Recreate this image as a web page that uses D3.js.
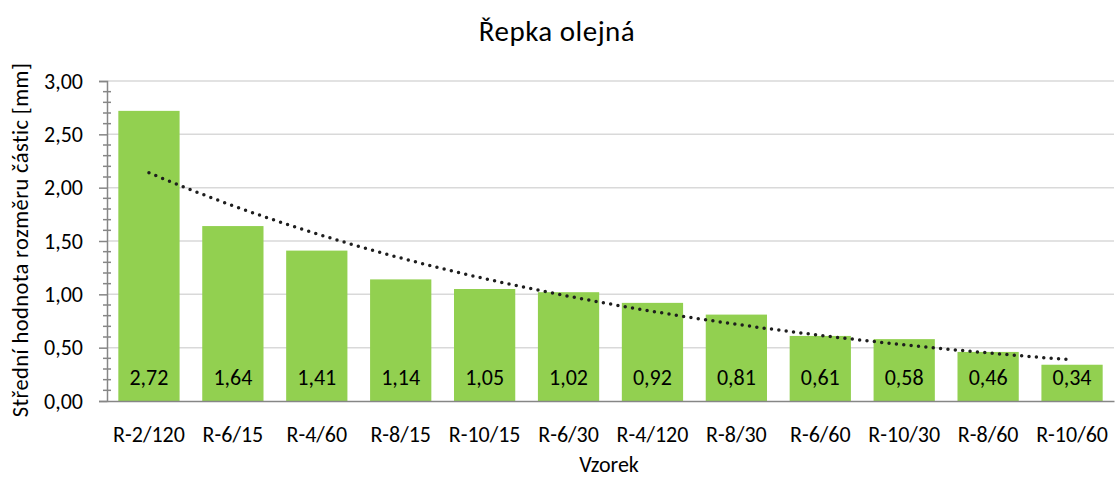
<!DOCTYPE html>
<html>
<head>
<meta charset="utf-8">
<script src="https://cdn.jsdelivr.net/npm/d3@7"></script>
<style>
  body { margin: 0; background: #fff; }
  text { font-family: Calibri, Carlito, Lato, sans-serif; fill: #000; }
</style>
</head>
<body>
<script>
// chart data
var categories = ["R-2/120", "R-6/15", "R-4/60", "R-8/15", "R-10/15", "R-6/30",
                  "R-4/120", "R-8/30", "R-6/60", "R-10/30", "R-8/60", "R-10/60"];
var values = [2.72, 1.64, 1.41, 1.14, 1.05, 1.02, 0.92, 0.81, 0.61, 0.58, 0.46, 0.34];
var yTicks = [0, 0.5, 1, 1.5, 2, 2.5, 3];
var title = "Řepka olejná";
var xTitle = "Vzorek";
var yTitle = "Střední hodnota rozměru částic [mm]";

var w = 1115, h = 479;
var pLeft = 107, pRight = 1114, pTop = 81, pBottom = 401;
var fs = "22px";

var fmt = function(d) { return d.toFixed(2).replace(".", ","); };

var svg = d3.select("body").append("svg")
  .attr("width", w)
  .attr("height", h);

var x = d3.scaleBand()
  .domain(categories)
  .range([pLeft, pRight])
  .paddingInner(0.27)
  .paddingOuter(0.135);

var y = d3.scaleLinear()
  .domain([0, 3])
  .range([pBottom, pTop]);

// gridlines
svg.append("g")
  .selectAll("line")
  .data(yTicks.slice(1))
  .enter()
  .append("line")
  .attr("x1", pLeft)
  .attr("x2", pRight)
  .attr("y1", function(d) { return y(d); })
  .attr("y2", function(d) { return y(d); })
  .attr("stroke", "#d9d9d9")
  .attr("stroke-width", 1.5);

// bars
svg.append("g")
  .selectAll("rect")
  .data(values)
  .enter()
  .append("rect")
  .attr("x", function(d, i) { return x(categories[i]); })
  .attr("y", function(d) { return y(d); })
  .attr("width", x.bandwidth())
  .attr("height", function(d) { return y(0) - y(d); })
  .attr("fill", "#92d050");

// value labels inside bars
svg.append("g")
  .selectAll("text")
  .data(values)
  .enter()
  .append("text")
  .attr("x", function(d, i) { return x(categories[i]) + x.bandwidth() / 2; })
  .attr("y", 385)
  .attr("text-anchor", "middle")
  .attr("font-size", fs)
  .text(fmt);

// exponential trendline (least squares on ln y, like Excel)
var n = values.length;
var xs = d3.range(1, n + 1);
var ly = values.map(Math.log);
var mx = d3.mean(xs), my = d3.mean(ly);
var sxy = d3.sum(xs, function(v, i) { return (v - mx) * (ly[i] - my); });
var sxx = d3.sum(xs, function(v) { return (v - mx) * (v - mx); });
var b = sxy / sxx, a = Math.exp(my - b * mx);

var xp = d3.scaleLinear()
  .domain([1, n])
  .range([x(categories[0]) + x.bandwidth() / 2, x(categories[n - 1]) + x.bandwidth() / 2]);

var trend = d3.range(1, n + 0.001, 0.1).map(function(t) { return [t, a * Math.exp(b * t)]; });

svg.append("path")
  .datum(trend)
  .attr("d", d3.line()
    .x(function(d) { return xp(d[0]); })
    .y(function(d) { return y(d[1]); }))
  .attr("fill", "none")
  .attr("stroke", "#1e1e1e")
  .attr("stroke-width", 3.5)
  .attr("stroke-linecap", "round")
  .attr("stroke-dasharray", "0 7.4");

// y axis
var yAxis = d3.axisLeft(y)
  .tickValues(yTicks)
  .tickFormat(fmt)
  .tickSize(8)
  .tickPadding(16);

var gy = svg.append("g")
  .attr("transform", "translate(" + pLeft + ",0)")
  .call(yAxis);
gy.select(".domain").attr("stroke", "#868686").attr("stroke-width", 1.5);
gy.selectAll(".tick line").attr("stroke", "#868686").attr("stroke-width", 1.5);
gy.selectAll(".tick text").attr("font-size", fs).attr("fill", "#000")
  .style("font-family", "Calibri, Carlito, Lato, sans-serif");

// minor ticks crossing the axis
svg.append("g")
  .selectAll("line")
  .data(d3.range(1, 30).filter(function(k) { return k % 5 != 0; }))
  .enter()
  .append("line")
  .attr("x1", pLeft - 4)
  .attr("x2", pLeft + 4)
  .attr("y1", function(k) { return y(k / 10); })
  .attr("y2", function(k) { return y(k / 10); })
  .attr("stroke", "#868686")
  .attr("stroke-width", 1.5);

// x axis
var xAxis = d3.axisBottom(x).tickSize(0).tickPadding(25);
var gx = svg.append("g")
  .attr("transform", "translate(0," + pBottom + ")")
  .call(xAxis);
gx.select(".domain").attr("stroke", "#868686").attr("stroke-width", 1.5);
gx.selectAll(".tick text").attr("font-size", fs).attr("fill", "#000")
  .style("font-family", "Calibri, Carlito, Lato, sans-serif");

// titles
svg.append("text")
  .attr("x", 557)
  .attr("y", 41)
  .attr("text-anchor", "middle")
  .attr("font-size", "29px")
  .attr("letter-spacing", "0.5px")
  .text(title);

svg.append("text")
  .attr("x", 609)
  .attr("y", 472)
  .attr("text-anchor", "middle")
  .attr("font-size", fs)
  .text(xTitle);

svg.append("text")
  .attr("transform", "translate(28,240) rotate(-90)")
  .attr("text-anchor", "middle")
  .attr("font-size", "22.5px")
  .attr("letter-spacing", "0.4px")
  .text(yTitle);
</script>
</body>
</html>
